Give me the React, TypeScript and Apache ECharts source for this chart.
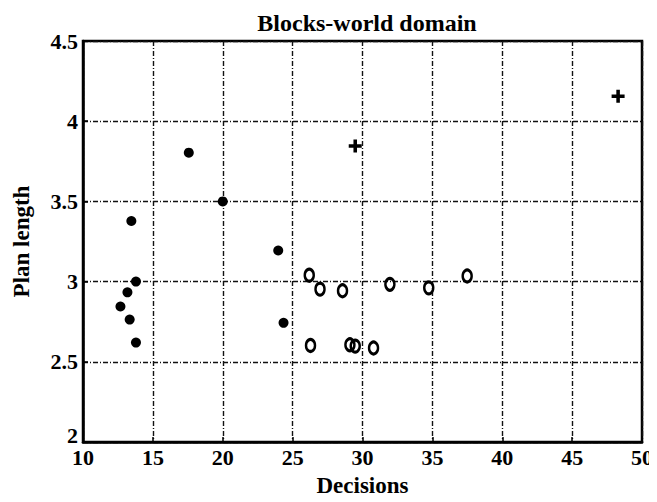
import React, { useEffect, useRef } from "react";
import * as echarts from "echarts";

const titleText = "Blocks-world domain";
const xName = "Decisions";
const yName = "Plan length";

const filledPoints: [number, number][] = [
  [17.57, 3.804],
  [20.0, 3.5],
  [13.46, 3.378],
  [13.79, 3.0],
  [13.18, 2.933],
  [12.68, 2.845],
  [13.34, 2.763],
  [13.79, 2.62],
  [23.97, 3.194],
  [24.35, 2.743],
];

const circlePoints: [number, number][] = [
  [26.19, 3.04],
  [26.96, 2.953],
  [28.57, 2.943],
  [31.96, 2.983],
  [34.74, 2.961],
  [37.49, 3.035],
  [26.28, 2.602],
  [29.1, 2.606],
  [29.48, 2.598],
  [30.79, 2.586],
];

const plusPoints: [number, number][] = [
  [29.48, 3.845],
  [48.29, 4.155],
];

const xMin = 10;
const xMax = 50;
const xStep = 5;
const yMin = 2;
const yMax = 4.5;
const yStep = 0.5;

const FONT = "'Liberation Serif', 'Times New Roman', serif";

export default function App() {
  const ref = useRef<HTMLDivElement>(null);
  useEffect(() => {
    if (!ref.current) return;
    const chart = echarts.init(ref.current, undefined, { renderer: "svg" });
    const gridLine = {
      show: true,
      lineStyle: { color: "#111", width: 1.4, type: [5, 2, 1, 2] as any },
    };
    const labelStyle = {
      fontFamily: FONT,
      fontWeight: "bold" as const,
      fontSize: 22,
      color: "#000",
    };
    chart.setOption({
      animation: false,
      backgroundColor: "#fff",
      title: {
        text: titleText,
        left: 362,
        textAlign: "center",
        top: 6,
        textStyle: { ...labelStyle, fontSize: 24 },
      },
      grid: {
        left: 83,
        right: 15,
        top: 41,
        bottom: 58,
        show: true,
        borderColor: "#000",
        borderWidth: 2.5,
        backgroundColor: "transparent",
      },
      xAxis: {
        type: "value",
        min: xMin,
        max: xMax,
        interval: xStep,
        name: xName,
        nameLocation: "middle",
        nameGap: 32,
        nameTextStyle: { ...labelStyle, fontSize: 23 },
        axisLine: { show: true, lineStyle: { color: "#000", width: 2.5 } },
        axisTick: { show: true, inside: true, length: 5, lineStyle: { color: "#000", width: 1.5 } },
        axisLabel: { ...labelStyle, margin: 4 },
        splitLine: gridLine,
      },
      yAxis: {
        type: "value",
        min: yMin,
        max: yMax,
        interval: yStep,
        name: yName,
        nameLocation: "middle",
        nameGap: 50,
        nameRotate: 90,
        nameTextStyle: { ...labelStyle, fontSize: 23 },
        axisLine: { show: true, lineStyle: { color: "#000", width: 2.5 } },
        axisTick: { show: true, inside: true, length: 5, lineStyle: { color: "#000", width: 1.5 } },
        axisLabel: {
          ...labelStyle,
          margin: 5,
          formatter: (v: number) => (v === yMin ? "{low|" + v + "}" : String(v)),
          rich: {
            low: { ...labelStyle, padding: [0, 0, 14, 0] },
          },
        },
        splitLine: gridLine,
      },
      series: [
        {
          type: "scatter",
          data: filledPoints,
          symbol: "circle",
          symbolSize: 10,
          itemStyle: { color: "#000", opacity: 1 },
        },
        {
          type: "scatter",
          data: circlePoints,
          symbol: "circle",
          symbolSize: [9, 12],
          itemStyle: { color: "rgba(255,255,255,0)", borderColor: "#000", borderWidth: 2.8, opacity: 1 },
        },
        {
          type: "scatter",
          data: plusPoints,
          symbol: "path://M4,0 H7 V4 H11 V7 H7 V11 H4 V7 H0 V4 H4 Z",
          symbolSize: 13,
          itemStyle: { color: "#000", opacity: 1 },
        },
      ],
    });
    return () => chart.dispose();
  }, []);
  return <div ref={ref} style={{ width: 657, height: 502, margin: -8 }} />;
}
